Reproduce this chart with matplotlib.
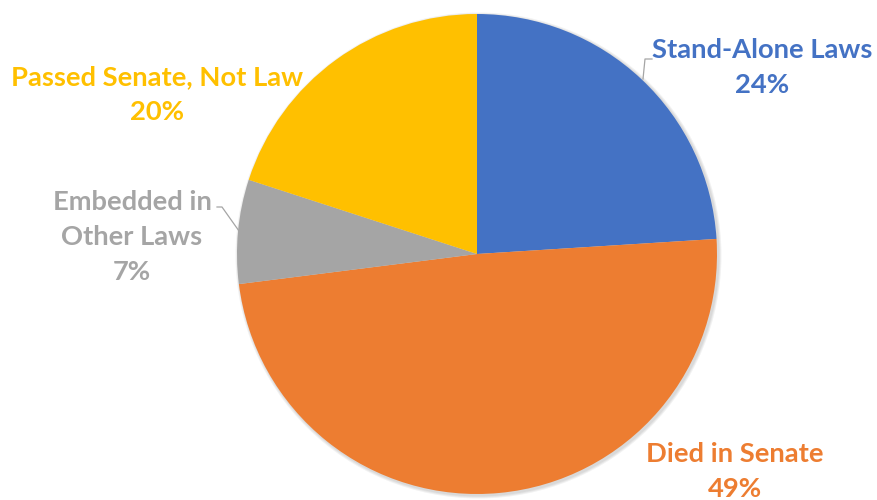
import matplotlib
matplotlib.use("Agg")
import matplotlib.pyplot as plt
from matplotlib.patches import Circle

# Outcome shares of the bills
categories = ["Stand-Alone Laws", "Died in Senate", "Embedded in\nOther Laws", "Passed Senate, Not Law"]
shares = [24, 49, 7, 20]
colors = ["#4472C4", "#ED7D31", "#A5A5A5", "#FFC000"]

W, H = 877, 500
fig = plt.figure(figsize=(W / 100, H / 100), dpi=100)
ax = fig.add_axes([0, 0, 1, 1])

cx, cy, r = 477, 246, 240

# soft drop shadow under the pie
for k in range(3):
    ax.add_patch(Circle((cx + 1.5, cy - 1.5), r + 1.0 + k, color="black", alpha=0.05, lw=0, zorder=0))

ax.pie(shares, colors=colors, startangle=90, counterclock=False,
       center=(cx, cy), radius=r, frame=True,
       wedgeprops=dict(linewidth=0, zorder=1))
ax.set_xlim(0, W)
ax.set_ylim(0, H)
ax.set_aspect("equal")
ax.axis("off")

font = dict(family=["Lato", "DejaVu Sans"], fontweight="bold", fontsize=19.7,
            ha="center", va="baseline")

# label anchor: centre x and baseline of the first line (pixels from top), line step
label_pos = [(762, 58), (735, 462), (132, 210), (157, 85)]
step = 35
for name, val, col, (x, y0) in zip(categories, shares, colors, label_pos):
    lines = name.split("\n") + [f"{val}%"]
    for i, line in enumerate(lines):
        ax.text(x, H - (y0 + i * step), line, color=col, **font)

# leader lines
ax.plot([652, 645, 643], [H - 59, H - 59, H - 79], color="#A5A5A5", lw=0.9, zorder=2)
ax.plot([217, 222, 239], [H - 207, H - 207, H - 231], color="#A5A5A5", lw=0.9, zorder=2)

fig.savefig("out.png", dpi=100)
